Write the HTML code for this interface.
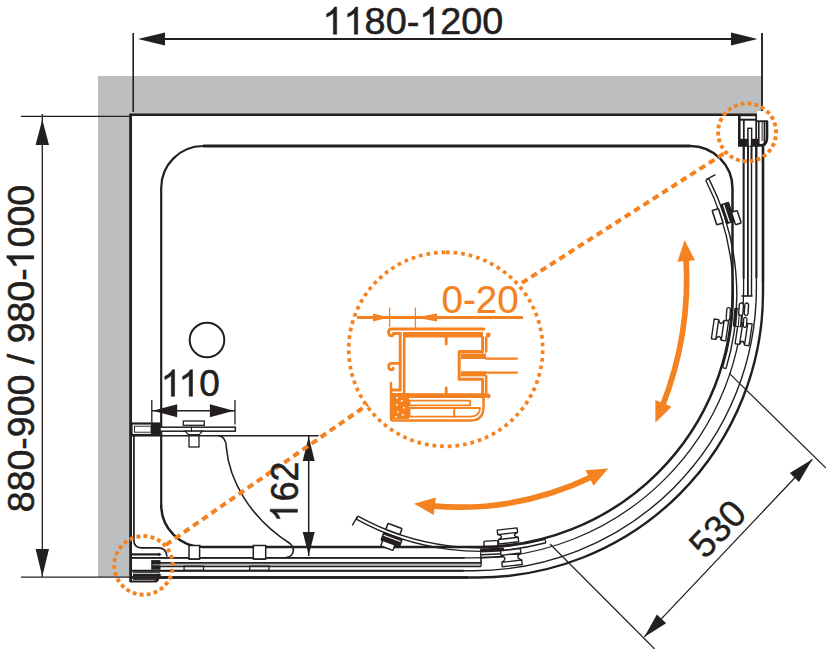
<!DOCTYPE html>
<html><head><meta charset="utf-8"><style>
html,body{margin:0;padding:0;background:#fff;}
body{width:826px;height:649px;position:relative;overflow:hidden;}
svg{position:absolute;left:0;top:0;}
</style></head><body>
<svg width="826" height="649" viewBox="0 0 826 649">
<path d="M98,76 H762 V115 H130 V577 H98 Z" fill="#bcbec0"/>
<line x1="150.00" y1="39.00" x2="745.00" y2="39.00" stroke="#231f20" stroke-width="1.8" />
<line x1="133.20" y1="33.00" x2="133.20" y2="112.00" stroke="#231f20" stroke-width="1.6" />
<line x1="762.00" y1="33.00" x2="762.00" y2="111.00" stroke="#231f20" stroke-width="1.5" />
<polygon points="138.00,39.00 165.00,32.50 165.00,45.50" fill="#231f20"/>
<polygon points="757.50,39.00 731.00,45.50 731.00,32.50" fill="#231f20"/>
<line x1="42.30" y1="114.00" x2="42.30" y2="577.00" stroke="#231f20" stroke-width="1.3" />
<line x1="21.00" y1="116.40" x2="130.00" y2="116.40" stroke="#231f20" stroke-width="1.2" />
<line x1="21.00" y1="577.20" x2="130.00" y2="577.20" stroke="#231f20" stroke-width="1.2" />
<polygon points="42.30,119.50 49.00,145.00 35.60,145.00" fill="#231f20"/>
<polygon points="42.30,576.50 35.60,549.00 49.00,549.00" fill="#231f20"/>
<path d="M743.6,146 V288.90 A269,269 0 0 1 474.60,557.9 H131" fill="none" stroke="#231f20" stroke-width="1.3" /><line x1="743.60" y1="146.00" x2="743.60" y2="278.90" stroke="#231f20" stroke-width="1.9" /><line x1="464.60" y1="557.90" x2="131.00" y2="557.90" stroke="#231f20" stroke-width="1.9" />
<path d="M756.4,146 V288.00 A282.7,282.7 0 0 1 473.70,570.7 H131" fill="none" stroke="#231f20" stroke-width="1.4" /><line x1="756.40" y1="146.00" x2="756.40" y2="278.00" stroke="#231f20" stroke-width="2.0" /><line x1="463.70" y1="570.70" x2="131.00" y2="570.70" stroke="#231f20" stroke-width="2.0" />
<path d="M763,146 V292.70 A284.8,284.8 0 0 1 478.20,577.5 H131" fill="none" stroke="#231f20" stroke-width="2.4" /><line x1="763.00" y1="146.00" x2="763.00" y2="282.70" stroke="#231f20" stroke-width="2.3" /><line x1="468.20" y1="577.50" x2="131.00" y2="577.50" stroke="#231f20" stroke-width="2.3" />
<line x1="747.90" y1="146.00" x2="747.90" y2="296.00" stroke="#231f20" stroke-width="1.8" />
<line x1="751.50" y1="146.00" x2="751.50" y2="296.00" stroke="#231f20" stroke-width="1.4" />
<line x1="741.50" y1="296.00" x2="752.50" y2="296.00" stroke="#231f20" stroke-width="1.6" />
<line x1="481.00" y1="553.00" x2="481.00" y2="566.50" stroke="#231f20" stroke-width="1.6" />
<path d="M161.2,506 V188 A42,42 0 0 1 203,146" fill="none" stroke="#231f20" stroke-width="2.2" />
<line x1="203.00" y1="146.00" x2="690.00" y2="146.00" stroke="#231f20" stroke-width="3.2" />
<path d="M690,146 A42.5,42.5 0 0 1 732.5,188.5 V293 A254,254 0 0 1 478.5,547 H203 A42,42 0 0 1 161.2,505" fill="none" stroke="#231f20" stroke-width="2.5" />
<line x1="130.60" y1="114.00" x2="130.60" y2="582.00" stroke="#231f20" stroke-width="2.8" />
<line x1="129.50" y1="114.80" x2="757.00" y2="114.80" stroke="#231f20" stroke-width="2.4" />
<circle cx="207" cy="340" r="17.3" fill="none" stroke="#231f20" stroke-width="2"/>
<line x1="152.00" y1="410.70" x2="235.00" y2="410.70" stroke="#231f20" stroke-width="1.5" />
<line x1="151.80" y1="400.00" x2="151.80" y2="424.50" stroke="#231f20" stroke-width="1.3" />
<line x1="235.00" y1="400.00" x2="235.00" y2="424.50" stroke="#231f20" stroke-width="1.3" />
<polygon points="152.70,410.70 177.20,404.20 177.20,417.20" fill="#231f20"/>
<polygon points="233.80,410.70 209.90,417.20 209.90,404.20" fill="#231f20"/>
<rect x="131.5" y="423.5" width="28" height="11.5" fill="#fff" stroke="#231f20" stroke-width="2.2" />
<rect x="134.5" y="426.2" width="16.5" height="6" fill="#fff" stroke="#231f20" stroke-width="0.9" />
<rect x="151" y="423.5" width="9" height="12" fill="#231f20"/>
<rect x="160" y="427.2" width="75.3" height="4" fill="#fff" stroke="#231f20" stroke-width="1.5" />
<rect x="183.3" y="421" width="21" height="4.3" fill="#fff" stroke="#231f20" stroke-width="1.3" />
<path d="M185,431.2 H202.5 L198.8,435.2 H189 Z" fill="#fff" stroke="#231f20" stroke-width="1.2"/>
<line x1="191.50" y1="426.50" x2="191.50" y2="432.00" stroke="#231f20" stroke-width="1.0" />
<rect x="189" y="434.7" width="10" height="12.3" fill="#fff" stroke="#231f20" stroke-width="1.3" />
<line x1="131.00" y1="435.80" x2="318.60" y2="435.80" stroke="#231f20" stroke-width="1.6" />
<path d="M133.9,436 V540 Q133.9,547.8 141,547.8 H158 Q166.5,547.8 167,556.5" fill="none" stroke="#231f20" stroke-width="1.7" />
<path d="M218.5,435.8 Q226,436.5 226.3,447 C229,480 250,518 290,543.5 Q295,548 292.5,553.5 Q290.5,557.4 286,557.4" fill="none" stroke="#231f20" stroke-width="1.6" />
<line x1="308.70" y1="436.00" x2="308.70" y2="556.00" stroke="#231f20" stroke-width="1.5" />
<polygon points="308.70,436.80 314.70,461.00 302.70,461.00" fill="#231f20"/>
<polygon points="308.70,555.60 302.70,532.00 314.70,532.00" fill="#231f20"/>
<rect x="189" y="545.5" width="10.599999999999994" height="13.5" fill="#fff" stroke="#231f20" stroke-width="1.5" />
<rect x="184.1" y="565.9" width="19.400000000000006" height="4.3" fill="#fff" stroke="#231f20" stroke-width="1.3" />
<line x1="189.00" y1="559.30" x2="199.60" y2="559.30" stroke="#231f20" stroke-width="1.2" />
<rect x="253.3" y="545.5" width="12.399999999999977" height="13.5" fill="#fff" stroke="#231f20" stroke-width="1.5" />
<rect x="249.7" y="565.9" width="19.30000000000001" height="4.3" fill="#fff" stroke="#231f20" stroke-width="1.3" />
<line x1="253.30" y1="559.30" x2="265.70" y2="559.30" stroke="#231f20" stroke-width="1.2" />
<line x1="131.00" y1="554.40" x2="160.00" y2="554.40" stroke="#231f20" stroke-width="2.2" />
<polygon points="161.80,554.40 158.50,556.20 158.50,552.60" fill="#231f20"/>
<rect x="151.2" y="560.1" width="9.3" height="9.6" fill="#231f20"/>
<line x1="152.00" y1="562.90" x2="481.00" y2="562.90" stroke="#231f20" stroke-width="1.8" />
<line x1="152.50" y1="564.90" x2="481.00" y2="564.90" stroke="#9a9a9a" stroke-width="1.3" />
<line x1="152.00" y1="566.50" x2="481.00" y2="566.50" stroke="#231f20" stroke-width="1.3" />
<line x1="133.00" y1="572.70" x2="160.00" y2="572.70" stroke="#231f20" stroke-width="1.0" />
<line x1="133.00" y1="575.00" x2="160.00" y2="575.00" stroke="#231f20" stroke-width="2.2" />
<polygon points="161.80,575.00 158.50,576.80 158.50,573.20" fill="#231f20"/>
<line x1="133.00" y1="579.60" x2="157.00" y2="579.60" stroke="#231f20" stroke-width="1.0" />
<path d="M130,581.5 H154 Q158,581.5 158.5,577.5" fill="none" stroke="#231f20" stroke-width="2.2" />
<line x1="738.00" y1="115.10" x2="757.00" y2="115.10" stroke="#231f20" stroke-width="2.2" />
<path d="M739.3,115 V145.4 H760 Q767,145.4 767,138 V121" fill="none" stroke="#231f20" stroke-width="2.6" />
<rect x="740" y="138.8" width="18" height="7" fill="#231f20"/>
<line x1="739.00" y1="119.70" x2="757.00" y2="119.70" stroke="#231f20" stroke-width="2.0" />
<line x1="743.80" y1="119.00" x2="743.80" y2="146.00" stroke="#231f20" stroke-width="1.8" />
<line x1="748.00" y1="128.40" x2="748.00" y2="146.00" stroke="#231f20" stroke-width="1.7" />
<line x1="751.50" y1="128.40" x2="751.50" y2="146.00" stroke="#231f20" stroke-width="1.7" />
<line x1="756.20" y1="116.00" x2="756.20" y2="146.00" stroke="#231f20" stroke-width="1.8" />
<line x1="758.80" y1="121.00" x2="758.80" y2="146.00" stroke="#231f20" stroke-width="1.6" />
<line x1="762.10" y1="121.00" x2="762.10" y2="141.00" stroke="#231f20" stroke-width="1.0" />
<line x1="764.40" y1="121.00" x2="764.40" y2="146.00" stroke="#231f20" stroke-width="1.6" />
<line x1="747.20" y1="128.40" x2="752.30" y2="128.40" stroke="#231f20" stroke-width="1.6" />
<line x1="757.00" y1="121.10" x2="767.70" y2="121.10" stroke="#231f20" stroke-width="2.0" />
<rect x="748.8" y="129" width="2" height="17" fill="#fff"/>
<rect x="757" y="111" width="10" height="9.2" fill="#fff"/>
<line x1="762.10" y1="33.00" x2="762.10" y2="111.00" stroke="#231f20" stroke-width="1.5" />
<line x1="743.80" y1="145.00" x2="743.80" y2="160.00" stroke="#231f20" stroke-width="1.7" />
<line x1="747.90" y1="145.00" x2="747.90" y2="160.00" stroke="#231f20" stroke-width="1.7" />
<line x1="751.50" y1="145.00" x2="751.50" y2="160.00" stroke="#231f20" stroke-width="1.7" />
<line x1="756.10" y1="145.00" x2="756.10" y2="160.00" stroke="#231f20" stroke-width="1.7" />
<line x1="763.00" y1="145.00" x2="763.00" y2="160.00" stroke="#231f20" stroke-width="1.7" />
<line x1="729.30" y1="373.40" x2="826.00" y2="468.00" stroke="#231f20" stroke-width="1.2" />
<line x1="550.00" y1="544.00" x2="654.60" y2="649.00" stroke="#231f20" stroke-width="1.2" />
<line x1="644.30" y1="636.90" x2="812.40" y2="459.20" stroke="#231f20" stroke-width="1.3" />
<polygon points="644.30,636.90 656.87,614.48 666.13,623.32" fill="#231f20"/>
<polygon points="812.40,459.20 798.96,481.99 789.84,473.01" fill="#231f20"/>
<path d="M705.75,180.23 A252.8,252.8 0 0 1 722.64,367.64" fill="none" stroke="#231f20" stroke-width="1.4" />
<path d="M708.86,178.64 A256.3,256.3 0 0 1 725.99,368.65" fill="none" stroke="#231f20" stroke-width="1.4" />
<line x1="705.75" y1="180.23" x2="708.86" y2="178.64" stroke="#231f20" stroke-width="1.2" />
<line x1="722.64" y1="367.64" x2="725.99" y2="368.65" stroke="#231f20" stroke-width="1.2" />
<path d="M545.08,539.41 A252.8,252.8 0 0 1 357.94,516.10" fill="none" stroke="#231f20" stroke-width="1.4" />
<path d="M545.97,542.80 A256.3,256.3 0 0 1 356.24,519.17" fill="none" stroke="#231f20" stroke-width="1.4" />
<line x1="545.08" y1="539.41" x2="545.97" y2="542.80" stroke="#231f20" stroke-width="1.2" />
<line x1="357.94" y1="516.10" x2="356.24" y2="519.17" stroke="#231f20" stroke-width="1.2" />
<line x1="706.20" y1="179.70" x2="715.40" y2="174.60" stroke="#231f20" stroke-width="1.4" />
<line x1="357.40" y1="516.70" x2="352.30" y2="525.40" stroke="#231f20" stroke-width="1.4" />
<g transform="translate(722.37,215.19) rotate(-18.26)"><rect x="-8.3" y="-7.5" width="6.6" height="15" fill="#fff" stroke="#231f20" stroke-width="1.6" rx="1"/><rect x="1" y="-11.0" width="9.5" height="21" fill="#231f20" rx="1.5"/><rect x="3.8" y="-9.5" width="1.3" height="18" fill="#fff"/><rect x="9.5" y="0.20000000000000018" width="6" height="13" fill="#fff" stroke="#231f20" stroke-width="1.5" rx="1"/></g>
<g transform="translate(392.20,533.69) rotate(110.30)"><rect x="-8.3" y="-7.5" width="6.6" height="15" fill="#fff" stroke="#231f20" stroke-width="1.6" rx="1"/><rect x="1" y="-12.0" width="9.5" height="21" fill="#231f20" rx="1.5"/><rect x="3.8" y="-10.5" width="1.3" height="18" fill="#fff"/><rect x="9.5" y="-6.5" width="6" height="13" fill="#fff" stroke="#231f20" stroke-width="1.5" rx="1"/></g>
<g transform="translate(719.97,329.93) rotate(8.30)"><path d="M-7.25,-10.0 H-2.75 Q0,-3.0 2.75,-10.0 H7.25 V10.0 H2.75 Q0,3.0 -2.75,10.0 H-7.25 Z M-2.75,-10.0 V10.0 M2.75,-10.0 V10.0" fill="#fff" stroke="#231f20" stroke-width="1.4" stroke-linejoin="round"/></g>
<g transform="translate(743.65,333.86) rotate(8.40)"><path d="M-7.0,-11.0 H-2.5 Q0,-4.0 2.5,-11.0 H7.0 V11.0 H2.5 Q0,4.0 -2.5,11.0 H-7.0 Z M-2.5,-11.0 V11.0 M2.5,-11.0 V11.0" fill="#fff" stroke="#231f20" stroke-width="1.4" stroke-linejoin="round"/></g>
<g transform="translate(738.02,317.53) rotate(5.00)"><rect x="-4.5" y="-9.5" width="9" height="19" fill="#231f20" rx="1"/><rect x="-1" y="-8.5" width="1.4" height="17" fill="#fff"/><rect x="1.5" y="-8.5" width="1.2" height="17" fill="#fff"/></g>
<g transform="translate(728.3,314) rotate(4)"><rect x="-1.8" y="-6.3" width="3.6" height="12.6" rx="1.8" fill="#fff" stroke="#231f20" stroke-width="1.3"/></g>
<g transform="translate(745.1,322.3) rotate(4)"><rect x="-1.6" y="-5" width="3.2" height="10" rx="1.6" fill="#fff" stroke="#231f20" stroke-width="1.3"/></g>
<g transform="translate(741.1,309.2) rotate(4)"><rect x="-2.1" y="-6.15" width="4.2" height="12.3" rx="2" fill="#fff" stroke="#231f20" stroke-width="1.4"/></g>
<g transform="translate(746.4,309.2) rotate(4)"><rect x="-1.9" y="-6.15" width="3.8" height="12.3" rx="2" fill="#fff" stroke="#231f20" stroke-width="1.4"/></g>
<g transform="translate(492.22,553.03) rotate(87.40)"><rect x="-5.0" y="-12.0" width="10" height="24" fill="#231f20" rx="1"/><rect x="-1" y="-11.0" width="1.4" height="22" fill="#fff"/><rect x="2.0" y="-11.0" width="1.2" height="22" fill="#fff"/></g>
<g transform="translate(507.95,535.94) rotate(83.50)"><path d="M-7.0,-10.0 H-2.5 Q0,-3.0 2.5,-10.0 H7.0 V10.0 H2.5 Q0,3.0 -2.5,10.0 H-7.0 Z M-2.5,-10.0 V10.0 M2.5,-10.0 V10.0" fill="#fff" stroke="#231f20" stroke-width="1.4" stroke-linejoin="round"/></g>
<g transform="translate(511.36,557.69) rotate(83.30)"><path d="M-8.0,-10.0 H-3.5 Q0,-3.0 3.5,-10.0 H8.0 V10.0 H3.5 Q0,3.0 -3.5,10.0 H-8.0 Z M-3.5,-10.0 V10.0 M3.5,-10.0 V10.0" fill="#fff" stroke="#231f20" stroke-width="1.4" stroke-linejoin="round"/></g>
<g transform="translate(490.91,543.48) rotate(87.6)"><rect x="-2.6" y="-7" width="5.2" height="14" rx="1.5" fill="#fff" stroke="#231f20" stroke-width="1.4"/></g>
<rect x="445.88" y="250.47" width="3.7" height="3.7" fill="#f58220" transform="rotate(-88.8 447.73 252.32)"/><rect x="453.53" y="250.93" width="3.7" height="3.7" fill="#f58220" transform="rotate(-84.3 455.38 252.78)"/><rect x="461.11" y="252.00" width="3.7" height="3.7" fill="#f58220" transform="rotate(-79.8 462.96 253.85)"/><rect x="468.59" y="253.66" width="3.7" height="3.7" fill="#f58220" transform="rotate(-75.2 470.44 255.51)"/><rect x="475.91" y="255.90" width="3.7" height="3.7" fill="#f58220" transform="rotate(-70.7 477.76 257.75)"/><rect x="483.03" y="258.72" width="3.7" height="3.7" fill="#f58220" transform="rotate(-66.2 484.88 260.57)"/><rect x="489.91" y="262.08" width="3.7" height="3.7" fill="#f58220" transform="rotate(-61.6 491.76 263.93)"/><rect x="496.50" y="265.98" width="3.7" height="3.7" fill="#f58220" transform="rotate(-57.1 498.35 267.83)"/><rect x="502.77" y="270.39" width="3.7" height="3.7" fill="#f58220" transform="rotate(-52.6 504.62 272.24)"/><rect x="508.66" y="275.28" width="3.7" height="3.7" fill="#f58220" transform="rotate(-48.1 510.51 277.13)"/><rect x="514.15" y="280.62" width="3.7" height="3.7" fill="#f58220" transform="rotate(-43.5 516.00 282.47)"/><rect x="519.21" y="286.37" width="3.7" height="3.7" fill="#f58220" transform="rotate(-39.0 521.06 288.22)"/><rect x="523.79" y="292.51" width="3.7" height="3.7" fill="#f58220" transform="rotate(-34.5 525.64 294.36)"/><rect x="527.88" y="298.99" width="3.7" height="3.7" fill="#f58220" transform="rotate(-30.0 529.73 300.84)"/><rect x="531.44" y="305.77" width="3.7" height="3.7" fill="#f58220" transform="rotate(-25.4 533.29 307.62)"/><rect x="534.45" y="312.81" width="3.7" height="3.7" fill="#f58220" transform="rotate(-20.9 536.30 314.66)"/><rect x="536.90" y="320.06" width="3.7" height="3.7" fill="#f58220" transform="rotate(-16.4 538.75 321.91)"/><rect x="538.77" y="327.49" width="3.7" height="3.7" fill="#f58220" transform="rotate(-11.9 540.62 329.34)"/><rect x="540.05" y="335.04" width="3.7" height="3.7" fill="#f58220" transform="rotate(-7.3 541.90 336.89)"/><rect x="540.73" y="342.67" width="3.7" height="3.7" fill="#f58220" transform="rotate(-2.8 542.58 344.52)"/><rect x="540.81" y="350.33" width="3.7" height="3.7" fill="#f58220" transform="rotate(1.7 542.66 352.18)"/><rect x="540.28" y="357.97" width="3.7" height="3.7" fill="#f58220" transform="rotate(6.2 542.13 359.82)"/><rect x="539.15" y="365.54" width="3.7" height="3.7" fill="#f58220" transform="rotate(10.8 541.00 367.39)"/><rect x="537.42" y="373.00" width="3.7" height="3.7" fill="#f58220" transform="rotate(15.3 539.27 374.85)"/><rect x="535.12" y="380.31" width="3.7" height="3.7" fill="#f58220" transform="rotate(19.8 536.97 382.16)"/><rect x="532.24" y="387.41" width="3.7" height="3.7" fill="#f58220" transform="rotate(24.3 534.09 389.26)"/><rect x="528.81" y="394.25" width="3.7" height="3.7" fill="#f58220" transform="rotate(28.9 530.66 396.10)"/><rect x="524.85" y="400.81" width="3.7" height="3.7" fill="#f58220" transform="rotate(33.4 526.70 402.66)"/><rect x="520.39" y="407.04" width="3.7" height="3.7" fill="#f58220" transform="rotate(37.9 522.24 408.89)"/><rect x="515.45" y="412.89" width="3.7" height="3.7" fill="#f58220" transform="rotate(42.4 517.30 414.74)"/><rect x="510.07" y="418.33" width="3.7" height="3.7" fill="#f58220" transform="rotate(47.0 511.92 420.18)"/><rect x="504.27" y="423.34" width="3.7" height="3.7" fill="#f58220" transform="rotate(51.5 506.12 425.19)"/><rect x="498.09" y="427.87" width="3.7" height="3.7" fill="#f58220" transform="rotate(56.0 499.94 429.72)"/><rect x="491.58" y="431.90" width="3.7" height="3.7" fill="#f58220" transform="rotate(60.5 493.43 433.75)"/><rect x="484.77" y="435.40" width="3.7" height="3.7" fill="#f58220" transform="rotate(65.1 486.62 437.25)"/><rect x="477.70" y="438.35" width="3.7" height="3.7" fill="#f58220" transform="rotate(69.6 479.55 440.20)"/><rect x="470.42" y="440.74" width="3.7" height="3.7" fill="#f58220" transform="rotate(74.1 472.27 442.59)"/><rect x="462.98" y="442.54" width="3.7" height="3.7" fill="#f58220" transform="rotate(78.6 464.83 444.39)"/><rect x="455.42" y="443.76" width="3.7" height="3.7" fill="#f58220" transform="rotate(83.2 457.27 445.61)"/><rect x="447.79" y="444.37" width="3.7" height="3.7" fill="#f58220" transform="rotate(87.7 449.64 446.22)"/><rect x="440.13" y="444.38" width="3.7" height="3.7" fill="#f58220" transform="rotate(92.2 441.98 446.23)"/><rect x="432.49" y="443.78" width="3.7" height="3.7" fill="#f58220" transform="rotate(96.7 434.34 445.63)"/><rect x="424.93" y="442.59" width="3.7" height="3.7" fill="#f58220" transform="rotate(101.3 426.78 444.44)"/><rect x="417.48" y="440.80" width="3.7" height="3.7" fill="#f58220" transform="rotate(105.8 419.33 442.65)"/><rect x="410.20" y="438.43" width="3.7" height="3.7" fill="#f58220" transform="rotate(110.3 412.05 440.28)"/><rect x="403.12" y="435.49" width="3.7" height="3.7" fill="#f58220" transform="rotate(114.8 404.97 437.34)"/><rect x="396.31" y="432.00" width="3.7" height="3.7" fill="#f58220" transform="rotate(119.4 398.16 433.85)"/><rect x="389.78" y="427.98" width="3.7" height="3.7" fill="#f58220" transform="rotate(123.9 391.63 429.83)"/><rect x="383.60" y="423.47" width="3.7" height="3.7" fill="#f58220" transform="rotate(128.4 385.45 425.32)"/><rect x="377.79" y="418.48" width="3.7" height="3.7" fill="#f58220" transform="rotate(132.9 379.64 420.33)"/><rect x="372.39" y="413.04" width="3.7" height="3.7" fill="#f58220" transform="rotate(137.5 374.24 414.89)"/><rect x="367.44" y="407.20" width="3.7" height="3.7" fill="#f58220" transform="rotate(142.0 369.29 409.05)"/><rect x="362.96" y="400.99" width="3.7" height="3.7" fill="#f58220" transform="rotate(146.5 364.81 402.84)"/><rect x="358.99" y="394.44" width="3.7" height="3.7" fill="#f58220" transform="rotate(151.0 360.84 396.29)"/><rect x="355.55" y="387.60" width="3.7" height="3.7" fill="#f58220" transform="rotate(155.6 357.40 389.45)"/><rect x="352.66" y="380.51" width="3.7" height="3.7" fill="#f58220" transform="rotate(160.1 354.51 382.36)"/><rect x="350.33" y="373.21" width="3.7" height="3.7" fill="#f58220" transform="rotate(164.6 352.18 375.06)"/><rect x="348.59" y="365.75" width="3.7" height="3.7" fill="#f58220" transform="rotate(169.1 350.44 367.60)"/><rect x="347.45" y="358.18" width="3.7" height="3.7" fill="#f58220" transform="rotate(173.7 349.30 360.03)"/><rect x="346.90" y="350.54" width="3.7" height="3.7" fill="#f58220" transform="rotate(178.2 348.75 352.39)"/><rect x="346.96" y="342.88" width="3.7" height="3.7" fill="#f58220" transform="rotate(182.7 348.81 344.73)"/><rect x="347.62" y="335.25" width="3.7" height="3.7" fill="#f58220" transform="rotate(187.2 349.47 337.10)"/><rect x="348.88" y="327.70" width="3.7" height="3.7" fill="#f58220" transform="rotate(191.8 350.73 329.55)"/><rect x="350.74" y="320.27" width="3.7" height="3.7" fill="#f58220" transform="rotate(196.3 352.59 322.12)"/><rect x="353.17" y="313.00" width="3.7" height="3.7" fill="#f58220" transform="rotate(200.8 355.02 314.85)"/><rect x="356.17" y="305.96" width="3.7" height="3.7" fill="#f58220" transform="rotate(205.3 358.02 307.81)"/><rect x="359.72" y="299.17" width="3.7" height="3.7" fill="#f58220" transform="rotate(209.9 361.57 301.02)"/><rect x="363.79" y="292.68" width="3.7" height="3.7" fill="#f58220" transform="rotate(214.4 365.64 294.53)"/><rect x="368.36" y="286.54" width="3.7" height="3.7" fill="#f58220" transform="rotate(218.9 370.21 288.39)"/><rect x="373.40" y="280.77" width="3.7" height="3.7" fill="#f58220" transform="rotate(223.4 375.25 282.62)"/><rect x="378.88" y="275.42" width="3.7" height="3.7" fill="#f58220" transform="rotate(227.9 380.73 277.27)"/><rect x="384.77" y="270.52" width="3.7" height="3.7" fill="#f58220" transform="rotate(232.5 386.62 272.37)"/><rect x="391.02" y="266.10" width="3.7" height="3.7" fill="#f58220" transform="rotate(237.0 392.87 267.95)"/><rect x="397.60" y="262.18" width="3.7" height="3.7" fill="#f58220" transform="rotate(241.5 399.45 264.03)"/><rect x="404.47" y="258.80" width="3.7" height="3.7" fill="#f58220" transform="rotate(246.1 406.32 260.65)"/><rect x="411.59" y="255.97" width="3.7" height="3.7" fill="#f58220" transform="rotate(250.6 413.44 257.82)"/><rect x="418.91" y="253.71" width="3.7" height="3.7" fill="#f58220" transform="rotate(255.1 420.76 255.56)"/><rect x="426.38" y="252.04" width="3.7" height="3.7" fill="#f58220" transform="rotate(259.6 428.23 253.89)"/><rect x="433.96" y="250.96" width="3.7" height="3.7" fill="#f58220" transform="rotate(264.2 435.81 252.81)"/><rect x="441.61" y="250.48" width="3.7" height="3.7" fill="#f58220" transform="rotate(268.7 443.46 252.33)"/>
<rect x="774.13" y="129.34" width="3.9" height="3.9" fill="#f58220" transform="rotate(-2.2 776.08 131.29)"/><rect x="773.55" y="136.30" width="3.9" height="3.9" fill="#f58220" transform="rotate(11.6 775.50 138.25)"/><rect x="771.33" y="142.93" width="3.9" height="3.9" fill="#f58220" transform="rotate(25.5 773.28 144.88)"/><rect x="767.58" y="148.83" width="3.9" height="3.9" fill="#f58220" transform="rotate(39.3 769.53 150.78)"/><rect x="762.53" y="153.67" width="3.9" height="3.9" fill="#f58220" transform="rotate(53.2 764.48 155.62)"/><rect x="756.47" y="157.15" width="3.9" height="3.9" fill="#f58220" transform="rotate(67.0 758.42 159.10)"/><rect x="749.75" y="159.08" width="3.9" height="3.9" fill="#f58220" transform="rotate(80.9 751.70 161.03)"/><rect x="742.76" y="159.35" width="3.9" height="3.9" fill="#f58220" transform="rotate(94.7 744.71 161.30)"/><rect x="735.91" y="157.94" width="3.9" height="3.9" fill="#f58220" transform="rotate(108.6 737.86 159.89)"/><rect x="729.60" y="154.93" width="3.9" height="3.9" fill="#f58220" transform="rotate(122.4 731.55 156.88)"/><rect x="724.20" y="150.50" width="3.9" height="3.9" fill="#f58220" transform="rotate(136.3 726.15 152.45)"/><rect x="720.01" y="144.90" width="3.9" height="3.9" fill="#f58220" transform="rotate(150.1 721.96 146.85)"/><rect x="717.28" y="138.47" width="3.9" height="3.9" fill="#f58220" transform="rotate(164.0 719.23 140.42)"/><rect x="716.17" y="131.56" width="3.9" height="3.9" fill="#f58220" transform="rotate(177.8 718.12 133.51)"/><rect x="716.75" y="124.60" width="3.9" height="3.9" fill="#f58220" transform="rotate(191.6 718.70 126.55)"/><rect x="718.97" y="117.97" width="3.9" height="3.9" fill="#f58220" transform="rotate(205.5 720.92 119.92)"/><rect x="722.72" y="112.07" width="3.9" height="3.9" fill="#f58220" transform="rotate(219.3 724.67 114.02)"/><rect x="727.77" y="107.23" width="3.9" height="3.9" fill="#f58220" transform="rotate(233.2 729.72 109.18)"/><rect x="733.83" y="103.75" width="3.9" height="3.9" fill="#f58220" transform="rotate(247.0 735.78 105.70)"/><rect x="740.55" y="101.82" width="3.9" height="3.9" fill="#f58220" transform="rotate(260.9 742.50 103.77)"/><rect x="747.54" y="101.55" width="3.9" height="3.9" fill="#f58220" transform="rotate(274.7 749.49 103.50)"/><rect x="754.39" y="102.96" width="3.9" height="3.9" fill="#f58220" transform="rotate(288.6 756.34 104.91)"/><rect x="760.70" y="105.97" width="3.9" height="3.9" fill="#f58220" transform="rotate(302.4 762.65 107.92)"/><rect x="766.10" y="110.40" width="3.9" height="3.9" fill="#f58220" transform="rotate(316.3 768.05 112.35)"/><rect x="770.29" y="116.00" width="3.9" height="3.9" fill="#f58220" transform="rotate(330.1 772.24 117.95)"/><rect x="773.02" y="122.43" width="3.9" height="3.9" fill="#f58220" transform="rotate(344.0 774.97 124.38)"/>
<rect x="168.21" y="575.60" width="3.9" height="3.9" fill="#f58220" transform="rotate(24.5 170.16 577.55)"/><rect x="164.53" y="581.63" width="3.9" height="3.9" fill="#f58220" transform="rotate(38.3 166.48 583.58)"/><rect x="159.51" y="586.60" width="3.9" height="3.9" fill="#f58220" transform="rotate(52.2 161.46 588.55)"/><rect x="153.45" y="590.22" width="3.9" height="3.9" fill="#f58220" transform="rotate(66.0 155.40 592.17)"/><rect x="146.70" y="592.29" width="3.9" height="3.9" fill="#f58220" transform="rotate(79.9 148.65 594.24)"/><rect x="139.64" y="592.69" width="3.9" height="3.9" fill="#f58220" transform="rotate(93.7 141.59 594.64)"/><rect x="132.70" y="591.38" width="3.9" height="3.9" fill="#f58220" transform="rotate(107.6 134.65 593.33)"/><rect x="126.27" y="588.45" width="3.9" height="3.9" fill="#f58220" transform="rotate(121.4 128.22 590.40)"/><rect x="120.73" y="584.07" width="3.9" height="3.9" fill="#f58220" transform="rotate(135.3 122.68 586.02)"/><rect x="116.40" y="578.49" width="3.9" height="3.9" fill="#f58220" transform="rotate(149.1 118.35 580.44)"/><rect x="113.54" y="572.04" width="3.9" height="3.9" fill="#f58220" transform="rotate(163.0 115.49 573.99)"/><rect x="112.30" y="565.08" width="3.9" height="3.9" fill="#f58220" transform="rotate(176.8 114.25 567.03)"/><rect x="112.76" y="558.03" width="3.9" height="3.9" fill="#f58220" transform="rotate(190.7 114.71 559.98)"/><rect x="114.89" y="551.30" width="3.9" height="3.9" fill="#f58220" transform="rotate(204.5 116.84 553.25)"/><rect x="118.57" y="545.27" width="3.9" height="3.9" fill="#f58220" transform="rotate(218.3 120.52 547.22)"/><rect x="123.59" y="540.30" width="3.9" height="3.9" fill="#f58220" transform="rotate(232.2 125.54 542.25)"/><rect x="129.65" y="536.68" width="3.9" height="3.9" fill="#f58220" transform="rotate(246.0 131.60 538.63)"/><rect x="136.40" y="534.61" width="3.9" height="3.9" fill="#f58220" transform="rotate(259.9 138.35 536.56)"/><rect x="143.46" y="534.21" width="3.9" height="3.9" fill="#f58220" transform="rotate(273.7 145.41 536.16)"/><rect x="150.40" y="535.52" width="3.9" height="3.9" fill="#f58220" transform="rotate(287.6 152.35 537.47)"/><rect x="156.83" y="538.45" width="3.9" height="3.9" fill="#f58220" transform="rotate(301.4 158.78 540.40)"/><rect x="162.37" y="542.83" width="3.9" height="3.9" fill="#f58220" transform="rotate(315.3 164.32 544.78)"/><rect x="166.70" y="548.41" width="3.9" height="3.9" fill="#f58220" transform="rotate(329.1 168.65 550.36)"/><rect x="169.56" y="554.86" width="3.9" height="3.9" fill="#f58220" transform="rotate(343.0 171.51 556.81)"/><rect x="170.80" y="561.82" width="3.9" height="3.9" fill="#f58220" transform="rotate(356.8 172.75 563.77)"/><rect x="170.34" y="568.87" width="3.9" height="3.9" fill="#f58220" transform="rotate(370.7 172.29 570.82)"/>
<line x1="520.30" y1="284.00" x2="726.60" y2="151.80" stroke="#f58220" stroke-width="4.0" stroke-dasharray="6.6 4.5" stroke-dashoffset="-2.0"/>
<line x1="163.20" y1="546.70" x2="368.00" y2="404.40" stroke="#f58220" stroke-width="4.0" stroke-dasharray="6.6 4.5" stroke-dashoffset="-3.1"/>
<path d="M686.11,258.02 A348.2,348.2 0 0 1 662.39,406.13" fill="none" stroke="#f58220" stroke-width="5.7"/><polygon points="684.60,240.09 695.04,260.32 677.50,261.72" fill="#f58220"/><polygon points="655.35,422.70 655.36,399.93 671.59,406.74" fill="#f58220"/>
<path d="M592.23,476.69 A307.5,307.5 0 0 1 431.85,505.91" fill="none" stroke="#f58220" stroke-width="5.7"/><polygon points="608.21,468.42 593.53,485.81 585.51,470.14" fill="#f58220"/><polygon points="413.98,503.80 435.83,497.41 433.86,514.90" fill="#f58220"/>
<line x1="357.00" y1="317.50" x2="523.00" y2="317.50" stroke="#f58220" stroke-width="3" />
<polygon points="389.00,317.50 373.00,321.60 373.00,313.40" fill="#f58220"/>
<polygon points="415.50,317.50 437.00,313.40 437.00,321.60" fill="#f58220"/>
<line x1="389.60" y1="307.50" x2="389.60" y2="327.00" stroke="#f58220" stroke-width="1.3" />
<line x1="415.40" y1="307.50" x2="415.40" y2="328.00" stroke="#f58220" stroke-width="1.3" />
<path d="M483.8,328.9 H391.5 Q388.6,328.9 388.6,332.3 Q388.6,335.8 391.6,335.8 Q393.3,335.8 393.3,333.6 H400" fill="none" stroke="#f58220" stroke-width="3.0" stroke-linecap="round" stroke-linejoin="round"/><path d="M403,332 H483 V337.5 H406 Q403,337.5 403,340 Z" fill="#f58220"/><circle cx="488.3" cy="335" r="2.4" fill="#f58220"/><path d="M400.2,333.5 V390 H391.5" fill="none" stroke="#f58220" stroke-width="2.9" stroke-linecap="round" stroke-linejoin="round"/><path d="M404.2,338 V393" fill="none" stroke="#f58220" stroke-width="2.7" stroke-linecap="round" stroke-linejoin="round"/><path d="M400,363.3 H391.5 Q388.6,363.3 388.6,366.6 Q388.6,369.8 391.6,369.8 Q393.3,369.8 393.3,368" fill="none" stroke="#f58220" stroke-width="2.7" stroke-linecap="round" stroke-linejoin="round"/><path d="M391,383 V418.5 Q391,420.6 393.5,420.6 H470 Q483.5,420.6 483.5,407 V397" fill="none" stroke="#f58220" stroke-width="2.5" stroke-linecap="round" stroke-linejoin="round"/><path d="M446.2,337.5 V344" fill="none" stroke="#f58220" stroke-width="2.8" stroke-linecap="round" stroke-linejoin="round"/><path d="M446.2,388 V394" fill="none" stroke="#f58220" stroke-width="2.8" stroke-linecap="round" stroke-linejoin="round"/><path d="M482.6,337.5 V351.6 H459.2 V379.3 H482.6 V395" fill="none" stroke="#f58220" stroke-width="3.0" stroke-linecap="round" stroke-linejoin="round"/><path d="M486.2,337.5 V351.6 M486.2,376.3 V395" fill="none" stroke="#f58220" stroke-width="2.5" stroke-linecap="round" stroke-linejoin="round"/><rect x="461" y="353.4" width="25" height="5.6" fill="#f58220"/><rect x="461" y="371.2" width="25" height="5.2" fill="#f58220"/><path d="M486,358.6 H517" fill="none" stroke="#f58220" stroke-width="2.2" stroke-linecap="round" stroke-linejoin="round"/><path d="M486,372.6 H517" fill="none" stroke="#f58220" stroke-width="2.2" stroke-linecap="round" stroke-linejoin="round"/><rect x="400" y="393.2" width="86" height="4.8" fill="#f58220"/><circle cx="488.3" cy="396" r="2.4" fill="#f58220"/><path d="M409.6,400.6 H470.2 V405.3 H409.6 Z" fill="none" stroke="#f58220" stroke-width="1.8" stroke-linecap="round" stroke-linejoin="round"/><path d="M409.6,408 H480 Q480,416.6 470,416.6 H409.6 Z" fill="none" stroke="#f58220" stroke-width="1.8" stroke-linecap="round" stroke-linejoin="round"/><path d="M454.2,408 V417" fill="none" stroke="#f58220" stroke-width="2.0" stroke-linecap="round" stroke-linejoin="round"/><rect x="391" y="393" width="18" height="26" fill="#f58220"/><rect x="396" y="397" width="1.6" height="1.6" fill="#fff"/><rect x="401" y="400" width="1.6" height="1.6" fill="#fff"/><rect x="396" y="404" width="1.6" height="1.6" fill="#fff"/><rect x="403" y="407" width="1.6" height="1.6" fill="#fff"/><rect x="397" y="411" width="1.6" height="1.6" fill="#fff"/><rect x="402" y="414" width="1.6" height="1.6" fill="#fff"/><rect x="395" y="416" width="1.6" height="1.6" fill="#fff"/>
<g transform="translate(322.6,34.2)" fill="#231f20" stroke="#231f20" stroke-width="0.55"><text x="42.03 63.05 84.07 117.67 138.69 159.70" y="0" font-family="Liberation Sans, sans-serif" font-size="37.8">80-200</text><path d="M14.08,0.00 L10.76,0.00 L10.76,-21.17 Q9.56,-20.03 7.61,-18.88 Q5.65,-17.74 4.08,-17.16 L4.08,-20.38 Q6.86,-21.69 8.95,-23.55 Q11.04,-25.42 11.90,-27.17 L14.08,-27.17 Z M35.10,0.00 L31.78,0.00 L31.78,-21.17 Q30.58,-20.03 28.62,-18.88 Q26.66,-17.74 25.10,-17.16 L25.10,-20.38 Q27.88,-21.69 29.97,-23.55 Q32.05,-25.42 32.92,-27.17 L35.10,-27.17 Z M110.74,0.00 L107.42,0.00 L107.42,-21.17 Q106.21,-20.03 104.26,-18.88 Q102.30,-17.74 100.73,-17.16 L100.73,-20.38 Q103.52,-21.69 105.61,-23.55 Q107.69,-25.42 108.56,-27.17 L110.74,-27.17 Z"/></g><g transform="translate(160.8,396.3)" fill="#231f20" stroke="#231f20" stroke-width="0.55"><text x="38.50" y="0" font-family="Liberation Sans, sans-serif" font-size="37">0</text><path d="M13.79,0.00 L10.53,0.00 L10.53,-20.72 Q9.36,-19.60 7.44,-18.48 Q5.53,-17.36 3.99,-16.80 L3.99,-19.95 Q6.72,-21.23 8.76,-23.05 Q10.80,-24.88 11.65,-26.60 L13.79,-26.60 Z M31.69,0.00 L28.43,0.00 L28.43,-20.72 Q27.26,-19.60 25.34,-18.48 Q23.43,-17.36 21.89,-16.80 L21.89,-19.95 Q24.62,-21.23 26.66,-23.05 Q28.70,-24.88 29.55,-26.60 L31.69,-26.60 Z"/></g><g transform="translate(33.8,512.2) rotate(-90)" fill="#231f20" stroke="#231f20" stroke-width="0.55"><text x="0.00 20.85 41.70 62.55 75.04 95.89 116.74 148.01 168.86 189.71 210.56 231.41 264.75 285.60 306.45" y="0" font-family="Liberation Sans, sans-serif" font-size="37.5">880-900/980-000</text><path d="M256.56,0.00 L253.26,0.00 L253.26,-21.00 Q252.07,-19.87 250.13,-18.73 Q248.19,-17.59 246.63,-17.03 L246.63,-20.22 Q249.40,-21.51 251.47,-23.36 Q253.54,-25.21 254.40,-26.95 L256.56,-26.95 Z"/></g><g transform="translate(297.5,521.2) rotate(-90) scale(0.94,1)" fill="#231f20" stroke="#231f20" stroke-width="0.55"><text x="21.13 42.26" y="0" font-family="Liberation Sans, sans-serif" font-size="38">62</text><path d="M12.83,0.00 L9.49,0.00 L9.49,-21.28 Q8.28,-20.13 6.32,-18.98 Q4.35,-17.83 2.77,-17.26 L2.77,-20.49 Q5.57,-21.80 7.67,-23.67 Q9.77,-25.55 10.64,-27.31 L12.83,-27.31 Z"/></g><g transform="translate(717.3,528.4) rotate(-46) translate(-31.3,13.3)" fill="#231f20" stroke="#231f20" stroke-width="0.3"><text x="0.00 20.85 41.70" y="0" font-family="Liberation Sans, sans-serif" font-size="37.5">530</text></g><g transform="translate(441.5,312.6)" fill="#f58220" stroke="#f58220" stroke-width="0.2"><text x="0.00 21.46 34.32 55.78" y="0" font-family="Liberation Sans, sans-serif" font-size="38.6">0-20</text></g>
</svg>
</body></html>
